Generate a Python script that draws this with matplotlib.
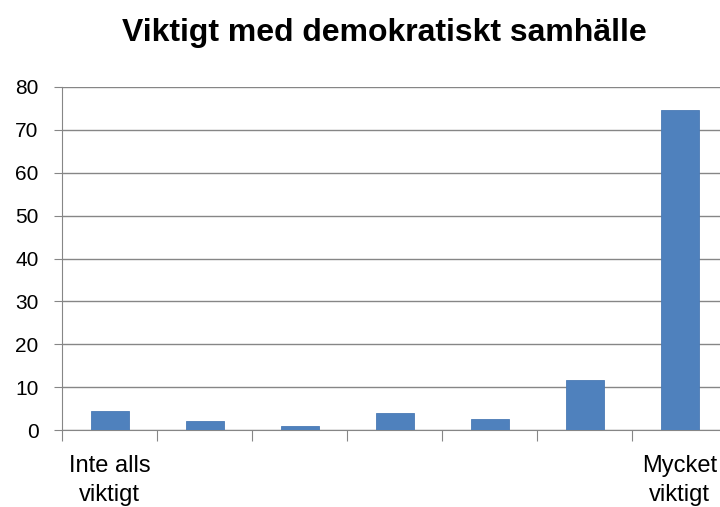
import numpy as np
import matplotlib.pyplot as plt

title = 'Viktigt med demokratiskt samhälle'
categories = ['Inte alls\nviktigt', '', '', '', '', '', 'Mycket\nviktigt']
values = [4.4, 2.1, 0.9, 3.9, 2.6, 11.6, 74.6]

plt.rcParams['font.family'] = ['Liberation Sans', 'DejaVu Sans']

fig = plt.figure(figsize=[7.2, 5.07], dpi=100)
ax = fig.add_axes([62/720, 1-430/507, 665/720, 343/507])

x = np.arange(len(values))
ax.bar(x, values, width=0.4, color='#4f81bd', edgecolor='#4a7ab5', linewidth=0.6, zorder=3)

ax.set_xlim(-0.5, len(values)-0.5)
ax.set_ylim(0, 80)
ax.set_yticks(np.arange(0, 90, 10))
ax.tick_params(axis='y', labelsize=15, length=6, color='#868686', pad=11)
ax.yaxis.grid(True, color='#868686', linewidth=1, zorder=0)

ax.set_xticks(np.arange(-0.5, len(values), 1))
ax.set_xticklabels([])
ax.tick_params(axis='x', length=8, color='#868686')
ax.set_xticks(x, minor=True)
ax.set_xticklabels(categories, minor=True, fontsize=17, linespacing=1.4)
ax.tick_params(axis='x', which='minor', length=0, pad=18)

for s in ['top', 'right']:
    ax.spines[s].set_visible(False)
for s in ['left', 'bottom']:
    ax.spines[s].set_color('#868686')

fig.text(0.534, 0.935, title, ha='center', va='center', fontsize=23, fontweight='bold')

plt.savefig('out.png', dpi=100)
